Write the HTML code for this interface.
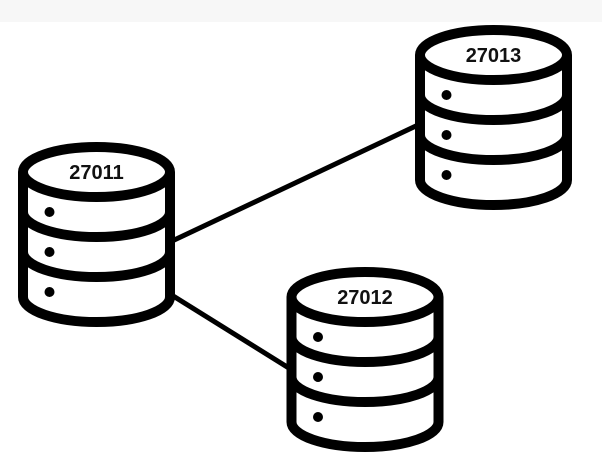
<!DOCTYPE html>
<html><head><style>
html,body{margin:0;padding:0;background:#fff;}
svg{display:block;}
text{font-family:"Liberation Sans",sans-serif;font-weight:bold;font-size:20px;fill:#111;}
</style></head><body>
<svg width="602" height="465" viewBox="0 0 602 465" xmlns="http://www.w3.org/2000/svg">
<rect x="0" y="0" width="602" height="22" fill="#f7f7f7"/>
<defs>
<g id="db" fill="none" stroke="#000" stroke-width="10">
  <path d="M-73.5,0 L-73.5,125 A73.5,25 0 0 0 73.5,125 L73.5,0" fill="#fff"/>
  <ellipse cx="0" cy="0" rx="73.5" ry="25" fill="#fff"/>
  <path d="M-73.5,40 A73.5,25 0 0 0 73.5,40"/>
  <path d="M-73.5,80 A73.5,25 0 0 0 73.5,80"/>
  <circle cx="-47" cy="40" r="5" fill="#000" stroke="none"/>
  <circle cx="-47" cy="80" r="5" fill="#000" stroke="none"/>
  <circle cx="-47" cy="120" r="5" fill="#000" stroke="none"/>
</g>
</defs>
<line x1="170" y1="242" x2="418" y2="125" stroke="#000" stroke-width="5"/>
<line x1="170" y1="294" x2="292" y2="370" stroke="#000" stroke-width="5"/>
<use href="#db" x="96.5" y="172"/>
<use href="#db" x="493.5" y="55"/>
<use href="#db" x="365" y="297"/>
<text x="96.5" y="179" text-anchor="middle">27011</text>
<text x="493.5" y="62" text-anchor="middle">27013</text>
<text x="365" y="304" text-anchor="middle">27012</text>
</svg>
</body></html>
